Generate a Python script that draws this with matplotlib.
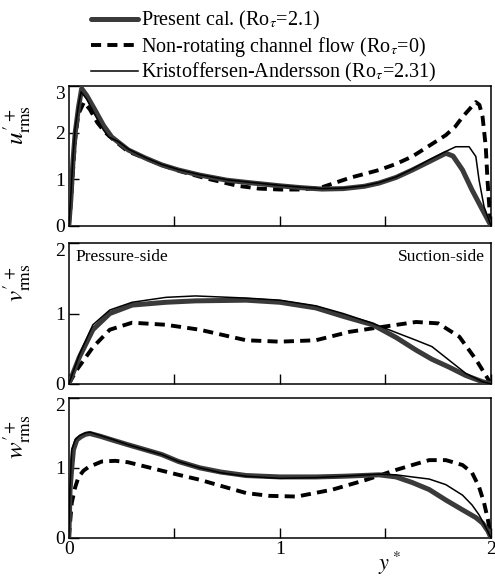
import matplotlib
matplotlib.use("Agg")
import matplotlib.pyplot as plt

plt.rcParams['font.family'] = ['Liberation Serif', 'DejaVu Serif']
plt.rcParams['mathtext.fontset'] = 'stix'

# --- u'rms ---
xu_pres = [0, 0.01, 0.02, 0.03, 0.046, 0.061, 0.085, 0.124, 0.164, 0.203, 0.282, 0.361, 0.44,
           0.519, 0.62, 0.75, 0.85, 1.0, 1.1, 1.2, 1.3, 1.4, 1.47, 1.55, 1.627, 1.707, 1.786,
           1.82, 1.865, 1.91, 1.96, 2.0]
u_pres = [0, 0.6, 1.4, 1.99, 2.55, 2.95, 2.8, 2.49, 2.16, 1.91, 1.63, 1.46, 1.31,
          1.2, 1.09, 0.98, 0.93, 0.86, 0.82, 0.79, 0.8, 0.85, 0.92, 1.04, 1.2, 1.38, 1.56,
          1.5, 1.2, 0.77, 0.34, 0]
xu_ka = [0, 0.01, 0.02, 0.03, 0.046, 0.058, 0.085, 0.124, 0.164, 0.188, 0.235, 0.282, 0.361, 0.44,
         0.519, 0.62, 0.75, 0.85, 1.0, 1.1, 1.2, 1.3, 1.4, 1.47, 1.55, 1.627, 1.707, 1.786,
         1.833, 1.896, 1.928, 1.943, 1.967, 2.0]
u_ka = [0, 0.7, 1.5, 2.1, 2.6, 2.88, 2.72, 2.38, 2.06, 1.91, 1.81, 1.65, 1.47, 1.32,
        1.21, 1.1, 0.99, 0.94, 0.87, 0.83, 0.8, 0.81, 0.86, 0.93, 1.05, 1.22, 1.42, 1.6,
        1.7, 1.7, 1.49, 0.99, 0.41, 0]
xu_nr = [0, 0.01, 0.02, 0.03, 0.045, 0.072, 0.1, 0.135, 0.17, 0.214, 0.28, 0.373, 0.45, 0.53,
         0.65, 0.8, 0.9, 1.0, 1.1, 1.2, 1.33, 1.47, 1.55, 1.627, 1.7, 1.786, 1.83, 1.865,
         1.9, 1.928, 1.945, 1.96, 1.975, 1.983, 1.992, 2.0]
u_nr = [0, 0.5, 1.2, 1.85, 2.4, 2.66, 2.5, 2.22, 2.02, 1.84, 1.6, 1.43, 1.29, 1.17,
        1.02, 0.86, 0.8, 0.78, 0.78, 0.83, 1.03, 1.2, 1.33, 1.49, 1.7, 1.95, 2.13, 2.34,
        2.52, 2.66, 2.6, 2.34, 1.7, 1.0, 0.4, 0]

# --- v'rms ---
xv_pres = [0, 0.05, 0.114, 0.194, 0.3, 0.46, 0.6, 0.84, 1.0, 1.17, 1.3, 1.44, 1.55, 1.645,
           1.72, 1.8, 1.88, 1.96, 2.0]
v_pres = [0, 0.38, 0.77, 1.0, 1.12, 1.16, 1.18, 1.19, 1.16, 1.08, 0.96, 0.84, 0.66, 0.48,
          0.35, 0.24, 0.12, 0.03, 0]
xv_ka = [0, 0.05, 0.114, 0.194, 0.3, 0.46, 0.6, 0.84, 1.0, 1.17, 1.3, 1.44, 1.55, 1.645,
         1.72, 1.8, 1.88, 1.96, 2.0]
v_ka = [0, 0.42, 0.84, 1.05, 1.16, 1.23, 1.25, 1.22, 1.19, 1.11, 1.0, 0.86, 0.73, 0.62,
        0.53, 0.34, 0.15, 0.03, 0]
xv_nr = [0, 0.038, 0.114, 0.194, 0.3, 0.46, 0.62, 0.84, 1.0, 1.17, 1.33, 1.485, 1.645,
         1.75, 1.85, 1.93, 2.0]
v_nr = [0, 0.2, 0.52, 0.77, 0.87, 0.84, 0.77, 0.62, 0.6, 0.62, 0.74, 0.81, 0.88,
        0.86, 0.67, 0.34, 0]

# --- w'rms ---
xw_pres = [0, 0.006, 0.014, 0.022, 0.038, 0.06, 0.08, 0.1, 0.15, 0.203, 0.28, 0.36, 0.44,
           0.52, 0.62, 0.72, 0.84, 1.0, 1.17, 1.3, 1.47, 1.55, 1.627, 1.707, 1.786, 1.865,
           1.928, 1.96, 1.985, 2.0]
w_pres = [0, 0.69, 1.0, 1.26, 1.4, 1.45, 1.48, 1.49, 1.45, 1.4, 1.33, 1.26, 1.19,
          1.09, 1.0, 0.94, 0.89, 0.87, 0.87, 0.88, 0.9, 0.87, 0.79, 0.69, 0.54, 0.4,
          0.29, 0.21, 0.1, 0]
xw_ka = [0, 0.005, 0.014, 0.03, 0.05, 0.08, 0.1, 0.15, 0.203, 0.28, 0.36, 0.44, 0.52,
         0.62, 0.72, 0.84, 1.0, 1.17, 1.3, 1.47, 1.55, 1.627, 1.707, 1.786, 1.865, 1.91,
         1.943, 1.97, 2.0]
w_ka = [0, 0.7, 1.26, 1.4, 1.46, 1.5, 1.51, 1.46, 1.41, 1.33, 1.26, 1.19, 1.09,
        1.0, 0.93, 0.88, 0.85, 0.86, 0.88, 0.91, 0.9, 0.87, 0.84, 0.76, 0.61, 0.47,
        0.33, 0.18, 0]
xw_nr = [0, 0.014, 0.03, 0.046, 0.07, 0.093, 0.156, 0.22, 0.28, 0.36, 0.44, 0.52, 0.62,
         0.7, 0.84, 0.95, 1.08, 1.25, 1.41, 1.55, 1.627, 1.707, 1.786, 1.865, 1.91, 1.943,
         1.967, 1.985, 2.0]
w_nr = [0, 0.5, 0.72, 0.87, 0.96, 1.01, 1.09, 1.1, 1.08, 1.02, 0.96, 0.9, 0.83,
        0.76, 0.64, 0.6, 0.59, 0.69, 0.83, 0.97, 1.04, 1.11, 1.11, 1.04, 0.93, 0.73,
        0.5, 0.26, 0]

labels = [r'Present cal. (Ro$_\tau$=2.1)',
          r'Non-rotating channel flow (Ro$_\tau$=0)',
          r'Kristoffersen-Andersson (Ro$_\tau$=2.31)']

panels = [
    (xu_pres, u_pres, xu_ka, u_ka, xu_nr, u_nr, 3, r"$u^{\prime\,+}_{\rm rms}$"),
    (xv_pres, v_pres, xv_ka, v_ka, xv_nr, v_nr, 2, r"$v^{\prime\,+}_{\rm rms}$"),
    (xw_pres, w_pres, xw_ka, w_ka, xw_nr, w_nr, 2, r"$w^{\prime +}_{\rm rms}$"),
]
boxes = [(0.139, 0.610, 0.853, 0.241),
         (0.139, 0.337, 0.853, 0.243),
         (0.139, 0.071, 0.853, 0.242)]

fig = plt.figure(figsize=(4.95, 5.79), dpi=100)
axes = []
for i, (xp, yp, xk, yk, xn, yn, ymax, ylab) in enumerate(panels):
    ax = fig.add_axes(boxes[i])
    l2, = ax.plot(xn, yn, color='black', lw=2.8, dashes=(2.6, 1.6), zorder=2)
    l1, = ax.plot(xp, yp, color='#3a3a3a', lw=3.6, solid_capstyle='round', zorder=3)
    l3, = ax.plot(xk, yk, color='black', lw=1.1, zorder=4)
    ax.set_xlim(0, 2)
    ax.set_ylim(0, ymax)
    ax.set_xticks([0, 1, 2])
    ax.set_xticks([0.5, 1.5], minor=True)
    ax.set_yticks(list(range(ymax + 1)))
    ax.tick_params(which='both', direction='in', length=7, width=1, labelsize=14, pad=2)
    ax.tick_params(axis='y', pad=3)
    if i < 2:
        ax.tick_params(axis='x', labelbottom=False)
    # top y label sits just under the upper edge, as in the original
    ax.get_yticklabels()[-1].set_verticalalignment('top')
    for s in ax.spines.values():
        s.set_linewidth(1.1)
    ax.set_ylabel(ylab, fontsize=18, labelpad=4)
    ax.yaxis.set_label_coords(-0.085, 0.72)
    axes.append(ax)
    if i == 0:
        handles = [l1, l2, l3]

axes[1].text(0.015, 0.96, 'Pressure-side', transform=axes[1].transAxes,
             ha='left', va='top', fontsize=12.5)
axes[1].text(0.985, 0.96, 'Suction-side', transform=axes[1].transAxes,
             ha='right', va='top', fontsize=12.5)
axes[2].set_xlabel(r'$y^*$', fontsize=16)
axes[2].xaxis.set_label_coords(0.76, -0.085)

fig.legend(handles, labels, loc='upper left', bbox_to_anchor=(0.16, 1.005),
           frameon=False, fontsize=14.5, handlelength=2.3, handletextpad=0.15,
           labelspacing=0.12, borderaxespad=0.2)

fig.savefig('out.png', dpi=100)
